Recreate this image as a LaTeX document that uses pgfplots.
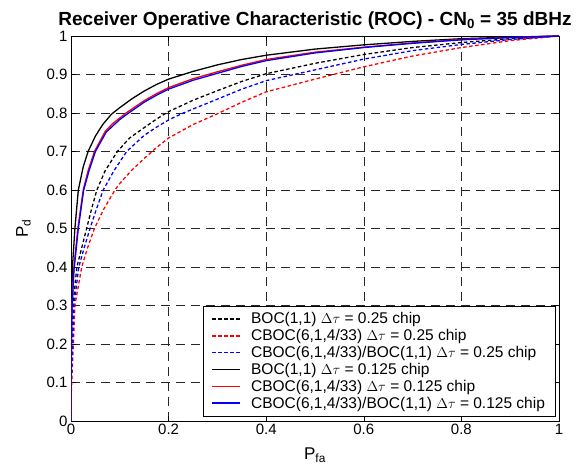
\documentclass[border=0pt]{standalone}
\usepackage{fontspec}
\setmainfont{Liberation Sans}
\usepackage{pgfplots}
\pgfplotsset{compat=1.18}

\tikzset{
  dsh/.style={line width=1.3bp, dash pattern=on 3.5bp off 2.5bp},
  sld/.style={line width=1.3bp}
}

\begin{document}
\begin{tikzpicture}
\begin{axis}[
  at={(0,0)}, anchor=south west,
  scale only axis,
  width=488bp, height=385bp,
  xmin=0, xmax=1, ymin=0, ymax=1,
  xtick={0,0.2,0.4,0.6,0.8,1},
  ytick={0,0.1,0.2,0.3,0.4,0.5,0.6,0.7,0.8,0.9,1},
  /pgf/number format/assume math mode=true,
  ticklabel style={font=\fontsize{15bp}{18bp}\selectfont},
  tick align=inside,
  major tick length=5bp,
  tick style={black, line width=0.6bp},
  axis line style={black, line width=0.9bp},
  grid=major,
  major grid style={black!85, line width=0.6bp, dash pattern=on 9bp off 6bp},
  title={\bfseries Receiver Operative Characteristic (ROC) - CN\textsubscript{0} = 35 dBHz},
  title style={font=\fontsize{19bp}{22bp}\selectfont, yshift=-3bp},
  xlabel={P\textsubscript{fa}},
  ylabel={P\textsubscript{d}},
  label style={font=\fontsize{17bp}{20bp}\selectfont},
  xlabel style={yshift=-6bp},
  ylabel style={yshift=9bp},
  legend cell align=left,
  legend style={at={(rel axis cs:0.992,0.012)}, anchor=south east,
    font=\fontsize{15.5bp}{17bp}\selectfont,
    inner xsep=8bp, inner ysep=4.5bp, row sep=0.2bp},
  legend image code/.code={%
    \draw[#1, line width=1.7bp] (0bp,0bp) -- (28bp,0bp);
    \path[draw=none] (0bp,0bp) -- (37bp,0bp);},
]
% BOC(1,1), dtau = 0.25
\addplot[draw=black, dsh] coordinates {
 (0,0)(0,0.1)(0.004,0.3)(0.012,0.4)(0.022,0.45)(0.032,0.5)(0.042,0.55)(0.053,0.6)(0.07,0.65)(0.095,0.7)
 (0.12,0.735)(0.15,0.762)(0.175,0.784)(0.199,0.803)(0.25,0.833)(0.3,0.858)(0.35,0.882)(0.4,0.902)(0.5,0.929)
 (0.6,0.952)(0.7,0.970)(0.8,0.983)(0.9,0.993)(1,1)};
\addlegendentry{BOC(1,1) $\Delta\tau$ = 0.25 chip}
% CBOC, dtau = 0.25
\addplot[draw=red, dsh] coordinates {
 (0,0)(0,0.05)(0.008,0.3)(0.022,0.4)(0.034,0.45)(0.048,0.5)(0.067,0.55)(0.09,0.6)(0.1,0.617)(0.125,0.652)(0.15,0.682)
 (0.175,0.71)(0.2,0.735)(0.25,0.770)(0.3,0.798)(0.35,0.828)(0.4,0.855)(0.5,0.888)(0.6,0.920)
 (0.7,0.948)(0.8,0.970)(0.9,0.988)(1,1)};
\addlegendentry{CBOC(6,1,4/33) $\Delta\tau$ = 0.25 chip}
% CBOC/BOC, dtau = 0.25
\addplot[draw=blue, dsh] coordinates {
 (0,0)(0,0.08)(0.006,0.3)(0.016,0.4)(0.027,0.45)(0.039,0.5)(0.052,0.55)(0.066,0.6)(0.088,0.65)(0.114,0.7)
 (0.15,0.742)(0.175,0.763)(0.2,0.782)(0.23,0.8)(0.3,0.836)(0.35,0.862)(0.4,0.884)(0.5,0.912)
 (0.6,0.940)(0.7,0.962)(0.8,0.978)(0.9,0.991)(1,1)};
\addlegendentry{CBOC(6,1,4/33)/BOC(1,1) $\Delta\tau$ = 0.25 chip}
% BOC(1,1), dtau = 0.125
\addplot[draw=black, sld] coordinates {
 (0,0)(0,0.12)(0.001,0.3)(0.003,0.4)(0.008,0.5)(0.015,0.6)(0.025,0.66)(0.035,0.7)
 (0.05,0.74)(0.065,0.77)(0.083,0.797)(0.1,0.814)(0.125,0.837)(0.15,0.857)(0.175,0.874)(0.2,0.888)
 (0.25,0.908)(0.3,0.925)(0.35,0.939)(0.4,0.950)(0.5,0.966)(0.6,0.977)(0.7,0.986)(0.8,0.993)(0.9,0.997)(1,1)};
\addlegendentry{BOC(1,1) $\Delta\tau$ = 0.125 chip}
% CBOC, dtau = 0.125
\addplot[draw=red, sld] coordinates {
 (0,0)(0,0.1)(0.002,0.3)(0.006,0.4)(0.014,0.5)(0.025,0.6)(0.035,0.65)(0.048,0.7)
 (0.07,0.752)(0.085,0.772)(0.1,0.787)(0.114,0.801)(0.15,0.832)(0.175,0.85)(0.2,0.866)(0.25,0.889)(0.3,0.907)
 (0.35,0.924)(0.4,0.939)(0.5,0.958)(0.6,0.971)(0.7,0.982)(0.8,0.991)(0.9,0.996)(1,1)};
\addlegendentry{CBOC(6,1,4/33) $\Delta\tau$ = 0.125 chip}
% CBOC/BOC, dtau = 0.125
\addplot[draw=blue, sld] coordinates {
 (0,0)(0,0.1)(0.002,0.29)(0.006,0.39)(0.015,0.5)(0.026,0.6)(0.037,0.65)(0.05,0.7)
 (0.072,0.75)(0.087,0.768)(0.1,0.783)(0.116,0.798)(0.15,0.828)(0.175,0.846)(0.2,0.862)(0.25,0.885)(0.3,0.903)
 (0.35,0.921)(0.4,0.936)(0.5,0.956)(0.6,0.970)(0.7,0.981)(0.8,0.990)(0.9,0.996)(1,1)};
\addlegendentry{CBOC(6,1,4/33)/BOC(1,1) $\Delta\tau$ = 0.125 chip}
\end{axis}
\path[use as bounding box] (-71bp,-49bp) rectangle (516bp,421bp);
\end{tikzpicture}
\end{document}
